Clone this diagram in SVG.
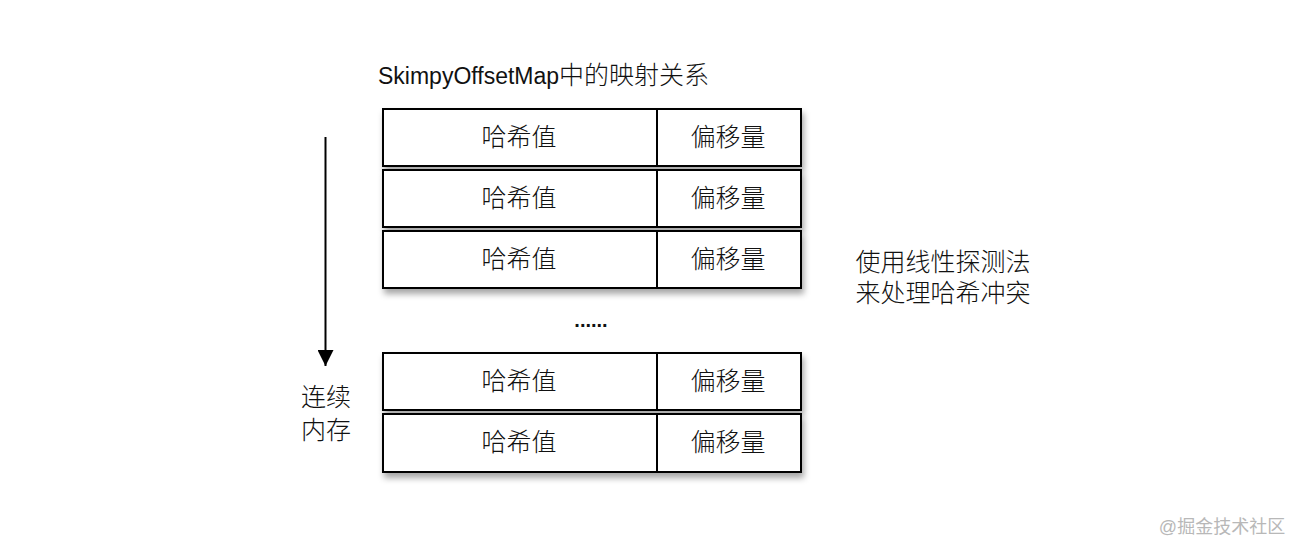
<svg xmlns="http://www.w3.org/2000/svg" width="1302" height="556" viewBox="0 0 1302 556">
<defs>
<filter id="sh" x="-5%" y="-20%" width="115%" height="160%">
<feDropShadow dx="2" dy="5" stdDeviation="3" flood-color="#000" flood-opacity="0.35"/>
</filter>
<marker id="ah" markerWidth="16" markerHeight="16" viewBox="0 0 16 16" refX="16" refY="8" orient="auto" markerUnits="userSpaceOnUse">
<path d="M0,0 L16,8 L0,16 Z" fill="#000"/>
</marker>
</defs>
<style>
.cell{fill:#fff;stroke:#000;stroke-width:2}
.t{font-family:"Liberation Sans","Noto Sans CJK SC",sans-serif;font-size:25px;font-weight:300;fill:#111;text-anchor:middle;dominant-baseline:central}
.l{font-family:"Liberation Sans","Noto Sans CJK SC",sans-serif;font-size:25px;font-weight:300;fill:#111}
</style>
<rect width="1302" height="556" fill="#fff"/>
<text x="378" y="84" class="l"><tspan font-size="23">SkimpyOffsetMap</tspan>中的映射关系</text>
<g id="row1" filter="url(#sh)">
<rect class="cell" x="383" y="109" width="274" height="57"/>
<rect class="cell" x="657" y="109" width="144" height="57"/>
</g>
<g id="row1-text"><text class="t" x="519" y="137">哈希值</text><text class="t" x="728" y="137">偏移量</text></g>
<g id="row2" filter="url(#sh)">
<rect class="cell" x="383" y="170" width="274" height="57"/>
<rect class="cell" x="657" y="170" width="144" height="57"/>
</g>
<g id="row2-text"><text class="t" x="519" y="198">哈希值</text><text class="t" x="728" y="198">偏移量</text></g>
<g id="row3" filter="url(#sh)">
<rect class="cell" x="383" y="231" width="274" height="57"/>
<rect class="cell" x="657" y="231" width="144" height="57"/>
</g>
<g id="row3-text"><text class="t" x="519" y="259">哈希值</text><text class="t" x="728" y="259">偏移量</text></g>
<text id="dots" class="t" x="591" y="320" style="font-size:20px;font-weight:bold">......</text>
<g id="row4" filter="url(#sh)">
<rect class="cell" x="383" y="353" width="274" height="57"/>
<rect class="cell" x="657" y="353" width="144" height="57"/>
</g>
<g id="row4-text"><text class="t" x="519" y="381">哈希值</text><text class="t" x="728" y="381">偏移量</text></g>
<g id="row5" filter="url(#sh)">
<rect class="cell" x="383" y="414" width="274" height="58"/>
<rect class="cell" x="657" y="414" width="144" height="58"/>
</g>
<g id="row5-text"><text class="t" x="519" y="442">哈希值</text><text class="t" x="728" y="442">偏移量</text></g>
<g id="connectors">
<line x1="325.5" y1="137" x2="325.5" y2="366" stroke="#000" stroke-width="2" marker-end="url(#ah)"/>
</g>
<g id="mem-label">
<text class="t" x="326" y="397">连续</text>
<text class="t" x="326" y="430">内存</text>
</g>
<g id="note">
<text class="t" x="943" y="262">使用线性探测法</text>
<text class="t" x="943" y="293">来处理哈希冲突</text>
</g>
<text x="1222" y="527" style="font-family:'Liberation Sans','Noto Sans CJK SC',sans-serif;font-size:18px;fill:#b8b8b8;text-anchor:middle;dominant-baseline:central">@掘金技术社区</text>
</svg>
